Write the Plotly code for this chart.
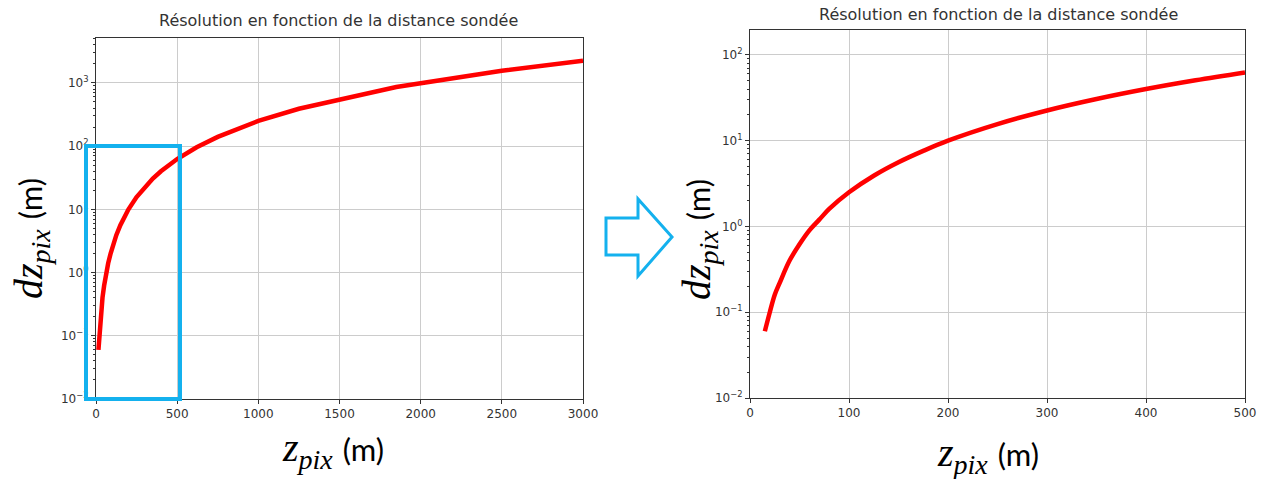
import plotly.graph_objects as go

W, H = 1273, 479

# ---- data ----
z_full = [15, 20, 25, 30, 40, 50, 60, 75, 90, 100, 125, 150, 175, 200, 250, 300, 350, 400, 450, 500,
          620, 750, 1000, 1250, 1850, 2500, 3000]
dz_full = [0.06, 0.1, 0.16, 0.22, 0.4, 0.62, 0.9, 1.4, 2.0, 2.5, 3.9, 5.6, 7.6, 10, 15.6, 22.5, 30.6, 40,
           50.6, 62.5, 96, 140, 250, 390, 860, 1560, 2250]

z_zoom = [15, 20, 25, 30, 40, 50, 60, 70, 80, 100, 125, 150, 175, 200, 250, 300, 350, 400, 450, 500]
dz_zoom = [0.06, 0.1, 0.16, 0.22, 0.4, 0.62, 0.9, 1.2, 1.6, 2.5, 3.9, 5.6, 7.6, 10, 15.6, 22.5, 30.6, 40, 50.6, 62.5]

x_ticks_full = [0, 500, 1000, 1500, 2000, 2500, 3000]
x_ticks_zoom = [0, 100, 200, 300, 400, 500]
y_exponents_full = [-2, -1, 0, 1, 2, 3]
y_exponents_zoom = [-2, -1, 0, 1, 2]

title_text = "Résolution en fonction de la distance sondée"


def px(x):
    return x / W


def py(y):
    return 1 - y / H


def minor_vals(lo, hi):
    vals = []
    for e in range(lo, hi + 1):
        for m in range(2, 10):
            vals.append(m * 10 ** e)
    return vals


def sup_label(e):
    s = str(e).replace("-", "−")
    return f"10<sup>{s}</sup>"


fig = go.Figure()
fig.add_trace(go.Scatter(x=z_full, y=dz_full, mode="lines",
                         line=dict(color="#ff0000", width=4.5), xaxis="x", yaxis="y",
                         showlegend=False))
fig.add_trace(go.Scatter(x=z_zoom, y=dz_zoom, mode="lines",
                         line=dict(color="#ff0000", width=4.5, shape="spline"), xaxis="x2", yaxis="y2",
                         showlegend=False))

tickfont = dict(family="DejaVu Sans", size=12, color="#333333")
common_x = dict(showgrid=True, gridcolor="#cccccc", gridwidth=1, showline=True, linecolor="#333333",
                linewidth=1, mirror=True, ticks="outside", ticklen=4, tickcolor="#333333",
                tickfont=tickfont, zeroline=False, automargin=False)
common_y = dict(type="log", showgrid=True, gridcolor="#cccccc", gridwidth=1, showline=True,
                linecolor="#333333", linewidth=1, mirror=True, ticks="outside", ticklen=4,
                tickcolor="#333333", tickfont=tickfont, zeroline=False, automargin=False)

fig.update_layout(
    width=W, height=H,
    margin=dict(l=0, r=0, t=0, b=0, autoexpand=False),
    paper_bgcolor="white", plot_bgcolor="white",
    xaxis=dict(domain=[px(96), px(583)], range=[0, 3000], anchor="y",
               tickvals=x_ticks_full, **common_x),
    yaxis=dict(domain=[py(399), py(38)], range=[-2, 3.71], anchor="x",
               tickvals=[10 ** e for e in y_exponents_full],
               ticktext=[sup_label(e) for e in y_exponents_full],
               minor=dict(tickvals=minor_vals(-2, 3), ticks="outside", ticklen=2,
                          tickcolor="#333333", showgrid=False),
               **common_y),
    xaxis2=dict(domain=[px(750), px(1245)], range=[0, 500], anchor="y2",
                tickvals=x_ticks_zoom, **common_x),
    yaxis2=dict(domain=[py(398), py(30)], range=[-2, 2.29], anchor="x2",
                tickvals=[10 ** e for e in y_exponents_zoom],
                ticktext=[sup_label(e) for e in y_exponents_zoom],
                minor=dict(tickvals=minor_vals(-2, 2), ticks="outside", ticklen=2,
                           tickcolor="#333333", showgrid=False),
                **common_y),
)

ann = []
# titles
ann.append(dict(x=px(339), y=py(21), xref="paper", yref="paper", text=title_text, showarrow=False,
                font=dict(family="DejaVu Sans", size=16, color="#333333"), xanchor="center", yanchor="middle"))
ann.append(dict(x=px(998), y=py(15), xref="paper", yref="paper", text=title_text, showarrow=False,
                font=dict(family="DejaVu Sans", size=16, color="#333333"), xanchor="center", yanchor="middle"))

ylab = '<i>dz</i><sub><i>pix</i></sub> <span style="font-family:Lato;font-size:31px">(m)</span>'
xlab = '<i>z</i><sub><i>pix</i></sub> <span style="font-family:Lato;font-size:31px">(m)</span>'
lab_font = dict(family="Liberation Serif", size=40, color="#000000")
ann.append(dict(x=px(31), y=py(239), xref="paper", yref="paper", text=ylab, showarrow=False,
                textangle=-90, font=lab_font, xanchor="center", yanchor="middle"))
ann.append(dict(x=px(699), y=py(240), xref="paper", yref="paper", text=ylab, showarrow=False,
                textangle=-90, font=lab_font, xanchor="center", yanchor="middle"))
ann.append(dict(x=px(333), y=py(450), xref="paper", yref="paper", text=xlab, showarrow=False,
                font=lab_font, xanchor="center", yanchor="middle"))
ann.append(dict(x=px(988), y=py(455), xref="paper", yref="paper", text=xlab, showarrow=False,
                font=lab_font, xanchor="center", yanchor="middle"))
fig.update_layout(annotations=ann)

cyan = "#14b1ee"
# zoom rectangle
fig.add_shape(type="rect", xref="paper", yref="paper",
              x0=px(86), x1=px(180), y0=py(399), y1=py(146),
              line=dict(color=cyan, width=4), fillcolor="rgba(0,0,0,0)", layer="above")
# block arrow
pts = [(606, 218), (638, 218), (638, 199), (672, 237), (638, 276), (638, 255), (606, 255)]
path = "M " + " L ".join(f"{px(a):.5f},{py(b):.5f}" for a, b in pts) + " Z"
fig.add_shape(type="path", xref="paper", yref="paper", path=path,
              line=dict(color=cyan, width=3), fillcolor="rgba(0,0,0,0)", layer="above")

fig.write_html("out.html", config={"displayModeBar": False},
               post_script="document.body.style.margin='0';document.body.style.overflow='hidden';")
